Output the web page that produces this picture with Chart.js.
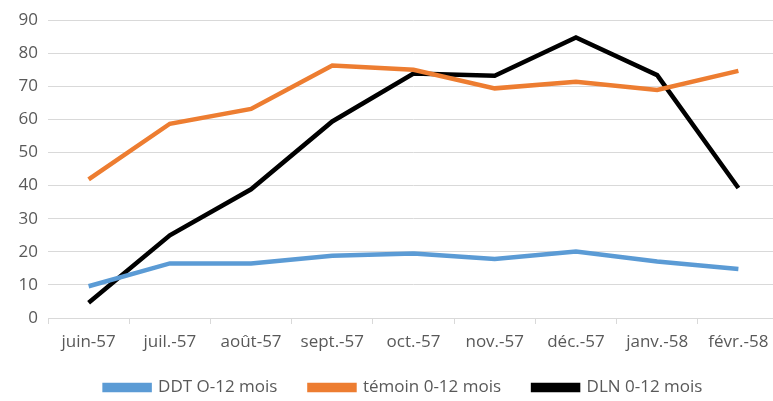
<!DOCTYPE html>
<html>
<head>
<meta charset="utf-8">
<script src="https://cdn.jsdelivr.net/npm/chart.js@4/dist/chart.umd.min.js"></script>
<style>
html,body{margin:0;padding:0;background:#fff;overflow:hidden;}
#wrap{width:779px;height:401px;position:relative;}
</style>
</head>
<body>
<div id="wrap"><canvas id="c"></canvas></div>
<script>
const categories = ["juin-57","juil.-57","août-57","sept.-57","oct.-57","nov.-57","déc.-57","janv.-58","févr.-58"];
const ddt = [9.6, 16.5, 16.5, 18.8, 19.5, 17.8, 20.1, 17.1, 14.8];
const temoin = [41.9, 58.7, 63.2, 76.3, 75.0, 69.4, 71.4, 68.9, 74.7];
const dln = [4.6, 25.0, 38.9, 59.4, 73.9, 73.2, 84.8, 73.4, 39.3];
const seriesNames = ["DDT O-12 mois", "témoin 0-12 mois", "DLN 0-12 mois"];
const yTicks = [0,10,20,30,40,50,60,70,80,90];

const fontFamily = "'Open Sans', 'Liberation Sans', sans-serif";
const textColor = "#595959";

// shift legend / widen x label clip after layout
const layoutTweak = {
  id: 'layoutTweak',
  afterLayout(chart) {
    const lg = chart.legend;
    lg.top += 5; lg.bottom += 5;
    lg.left += 14; lg.right += 14;
    const x = chart.scales.x;
    x.bottom = x.top + 42;
  }
};

new Chart(document.getElementById('c'), {
  type: 'line',
  data: {
    labels: categories,
    datasets: [
      {label: seriesNames[0], data: ddt, borderColor: '#5B9BD5', backgroundColor: '#5B9BD5', borderWidth: 4.5, pointRadius: 0, tension: 0},
      {label: seriesNames[1], data: temoin, borderColor: '#ED7D31', backgroundColor: '#ED7D31', borderWidth: 4.5, pointRadius: 0, tension: 0},
      {label: seriesNames[2], data: dln, borderColor: '#000000', backgroundColor: '#000000', borderWidth: 4.5, pointRadius: 0, tension: 0}
    ]
  },
  plugins: [layoutTweak],
  options: {
    responsive: true,
    maintainAspectRatio: false,
    animation: false,
    layout: {padding: {top: 3, right: 0, bottom: 0, left: 0}},
    plugins: {
      legend: {
        position: 'bottom',
        labels: {
          boxWidth: 45, boxHeight: 5, padding: 32,
          color: textColor,
          font: {family: fontFamily, size: 17}
        }
      },
      tooltip: {enabled: false}
    },
    scales: {
      x: {
        offset: true,
        afterFit: (s) => { s.height = 24; },
        grid: {display: true, drawOnChartArea: false, drawTicks: true, tickLength: 6, offset: true, color: '#D9D9D9'},
        border: {display: true, color: '#D9D9D9', width: 1},
        ticks: {color: textColor, font: {family: fontFamily, size: 17}, maxRotation: 0, autoSkip: false, padding: 8}
      },
      y: {
        min: 0, max: 90,
        afterBuildTicks: (s) => { s.ticks = yTicks.map(v => ({value: v})); },
        afterFit: (s) => { s.width = 48; },
        grid: {color: '#D9D9D9', lineWidth: 1, drawTicks: false},
        border: {display: false},
        ticks: {color: textColor, font: {family: fontFamily, size: 17}, padding: 10}
      }
    }
  }
});
</script>
</body>
</html>
